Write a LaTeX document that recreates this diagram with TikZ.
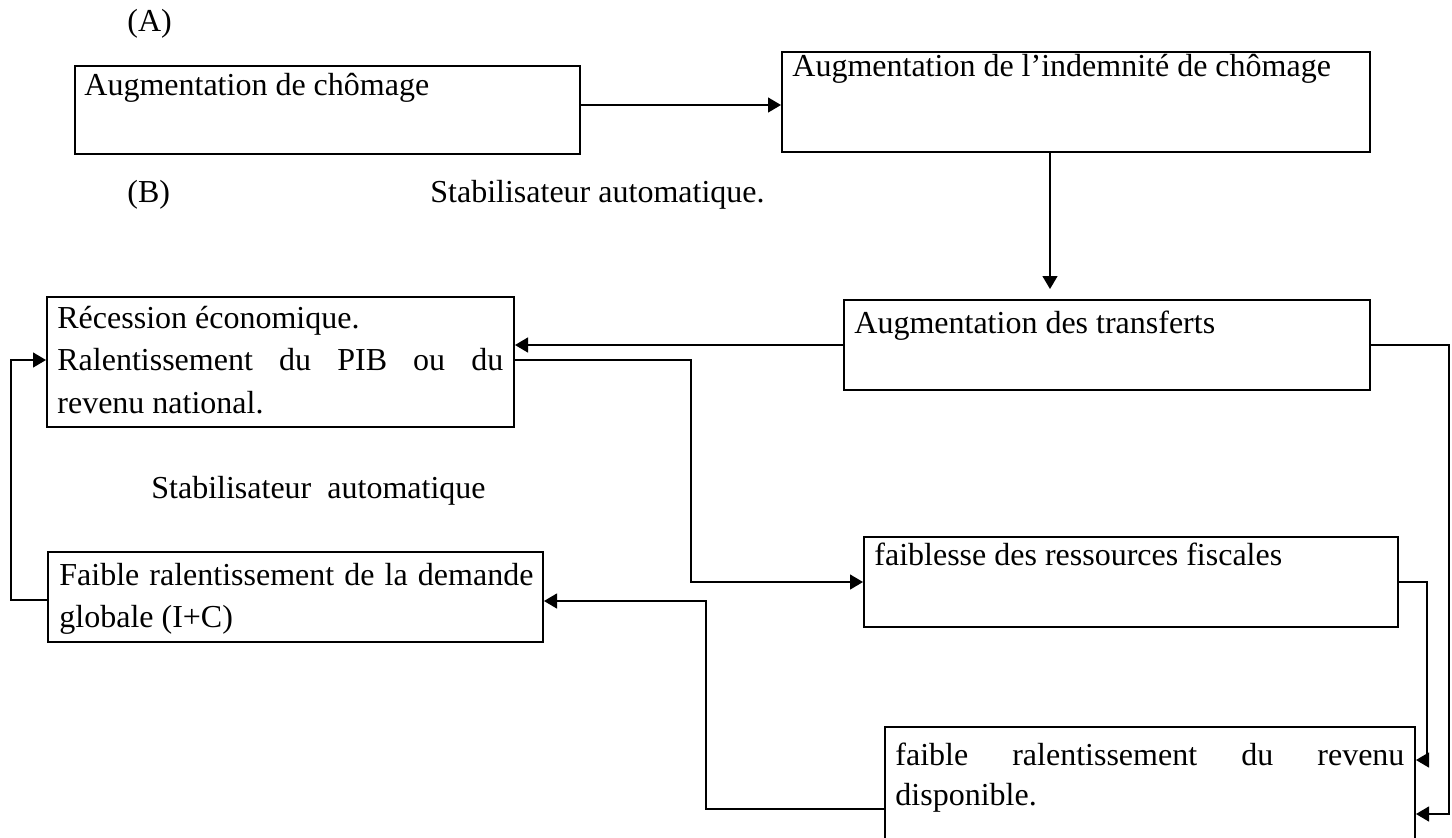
\documentclass[tikz,border=0pt]{standalone}
\usepackage{fontspec}
\setmainfont{Liberation Serif}
\usetikzlibrary{arrows.meta,calc}

\begin{document}
\begin{tikzpicture}[x=0.5pt,y=-0.5pt,
	box/.style={draw, line width=1pt, inner sep=0pt},
	txt/.style={anchor=base west, inner sep=0pt, font=\fontsize{16}{20}\selectfont},
	arr/.style={-{Triangle[length=6.5pt,width=7.5pt]}, line width=0.65pt},
	link/.style={line width=0.65pt}]
		\useasboundingbox (0,0) rectangle (1452,837);
		\clip (0,0) rectangle (1452,837);

		% boxes
		\node[box, minimum width=252.5pt, minimum height=44pt] (chom) at (327.5, 110) {};
		\node[box, minimum width=294pt, minimum height=50pt] (indem) at (1076, 102) {};
		\node[box, minimum width=263pt, minimum height=45pt] (transf) at (1107, 345) {};
		\node[box, minimum width=233.5pt, minimum height=65pt] (recess) at (280.5, 362) {};
		\node[box, minimum width=267pt, minimum height=45pt] (fisc) at (1131, 582) {};
		\node[box, minimum width=247.5pt, minimum height=45pt] (faible) at (295.5, 597) {};
		\node[box, minimum width=265pt, minimum height=65pt] (revenu) at (1150, 792) {};

		% texts
		\node[txt] (A) at (127, 31) {(A)};
		\node[txt] (B) at (127, 202) {(B)};
		\node[txt] (stab1) at (430, 202) {Stabilisateur automatique.};
		\node[txt] (stab2) at (151, 498) {Stabilisateur\ \ automatique};
		\node[txt] (chomtxt) at (84, 95) {Augmentation de chômage};
		\node[txt] (indemtxt) at (792, 76) {Augmentation de l’indemnité de chômage};
		\node[txt] (transftxt) at (854, 333) {Augmentation des transferts};
		\node[txt] (recess1) at (57, 328) {Récession économique.};
		\node[txt] (recess2) at (57, 370) {\makebox[223pt][s]{Ralentissement du PIB ou du}};
		\node[txt] (recess3) at (57, 413) {revenu national.};
		\node[txt] (fisctxt) at (874, 565) {faiblesse des ressources fiscales};
		\node[txt] (faible1) at (59, 585) {\makebox[237pt][s]{Faible ralentissement de la demande}};
		\node[txt] (faible2) at (59, 627) {globale (I+C)};
		\node[txt] (revenu1) at (895, 765) {\makebox[254.5pt][s]{faible ralentissement du revenu}};
		\node[txt] (revenu2) at (895, 805) {disponible.};

		\coordinate (tip) at ($(transf.north)+(-57,-10)$);

		% connectors
		\draw[arr] ($(chom.east)+(0,-5)$) -- ($(indem.west)+(0,3)$);
		\draw[arr] (indem.south -| tip) -- (tip);
		\draw[arr] (transf.west) -- (recess.east |- transf.west);
		\draw[arr] ($(recess.east)+(0,-2)$) -- ++(176,0) |- (fisc.west);
		\draw[arr] (transf.east) -- ++(78,0) |- ($(revenu.east)+(0,22)$);
		\draw[arr] (fisc.east) -- ++(28,0) |- ($(revenu.east)+(0,-32)$);
		\draw[arr] ($(revenu.west)+(0,17)$) -- ++(-178,0) |- ($(faible.east)+(0,4)$);
		\draw[arr] ($(faible.west)+(0,3)$) -- ++(-36,0) |- ($(recess.west)+(0,-2)$);
	\end{tikzpicture}
\end{document}
